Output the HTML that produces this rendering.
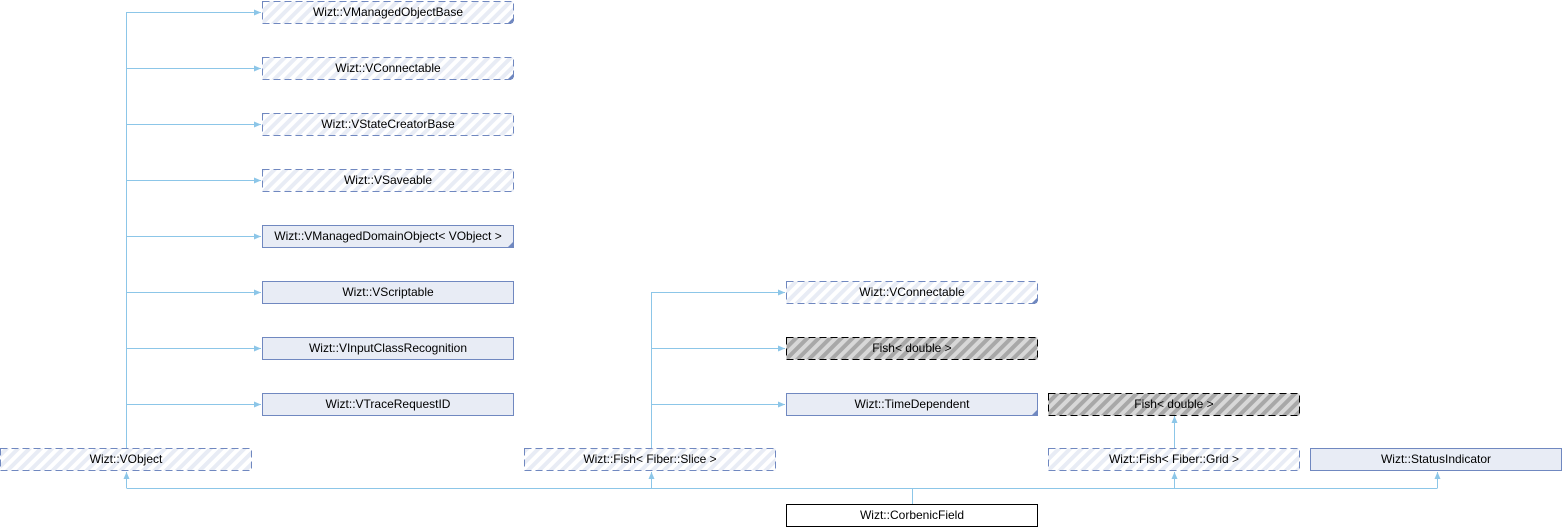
<!DOCTYPE html>
<html><head><meta charset="utf-8"><style>html,body{margin:0;padding:0;background:#fff;}svg{display:block}</style></head>
<body>
<svg width="1562" height="528" xmlns="http://www.w3.org/2000/svg" font-family="Liberation Sans, sans-serif" font-size="12">
<defs>
<pattern id="hb" width="8" height="8" patternUnits="userSpaceOnUse" patternTransform="rotate(45)">
<rect width="8" height="8" fill="#fff"/><rect width="4" height="8" fill="#e8ecf5"/></pattern>
<pattern id="hg" width="8" height="8" patternUnits="userSpaceOnUse" patternTransform="rotate(45)">
<rect width="8" height="8" fill="#d8d8d8"/><rect width="4" height="8" fill="#a8a8a8"/></pattern>
<marker id="a" markerWidth="8" markerHeight="8" refX="7" refY="4" orient="auto" markerUnits="userSpaceOnUse"><path d="M0,1 L7,4 L0,7z" fill="#8cc6e8"/></marker>
</defs>
<g stroke="#8cc6e8" stroke-width="1" fill="none">
<path d="M126.5,12 V448"/>
<path d="M126.5,12.5 H261" marker-end="url(#a)"/>
<path d="M126.5,68.5 H261" marker-end="url(#a)"/>
<path d="M126.5,124.5 H261" marker-end="url(#a)"/>
<path d="M126.5,180.5 H261" marker-end="url(#a)"/>
<path d="M126.5,236.5 H261" marker-end="url(#a)"/>
<path d="M126.5,292.5 H261" marker-end="url(#a)"/>
<path d="M126.5,348.5 H261" marker-end="url(#a)"/>
<path d="M126.5,404.5 H261" marker-end="url(#a)"/>
<path d="M651.5,292 V448"/>
<path d="M651.5,292.5 H785" marker-end="url(#a)"/>
<path d="M651.5,348.5 H785" marker-end="url(#a)"/>
<path d="M651.5,404.5 H785" marker-end="url(#a)"/>
<path d="M1174.5,448 V416" marker-end="url(#a)"/>
<path d="M126.5,488.5 H1437.5"/>
<path d="M912.5,488 V504"/>
<path d="M126.5,488 V472" marker-end="url(#a)"/>
<path d="M651.5,488 V472" marker-end="url(#a)"/>
<path d="M1174.5,488 V472" marker-end="url(#a)"/>
<path d="M1437.5,488 V472" marker-end="url(#a)"/>
</g>
<g stroke="#7088c0" stroke-dasharray="7,4" fill="url(#hb)">
<rect x="262.5" y="1.5" width="251" height="22"/>
<rect x="262.5" y="57.5" width="251" height="22"/>
<rect x="262.5" y="113.5" width="251" height="22"/>
<rect x="262.5" y="169.5" width="251" height="22"/>
<rect x="0.5" y="448.5" width="251" height="22"/>
<rect x="524.5" y="448.5" width="251" height="22"/>
<rect x="786.5" y="281.5" width="251" height="22"/>
<rect x="1048.5" y="448.5" width="251" height="22"/>
</g>
<g stroke="#000" stroke-dasharray="7,4" fill="url(#hg)">
<rect x="786.5" y="337.5" width="251" height="22"/>
<rect x="1048.5" y="393.5" width="251" height="22"/>
</g>
<g stroke="#7088c0" fill="#e8ecf5">
<rect x="262.5" y="225.5" width="251" height="22"/>
<rect x="262.5" y="281.5" width="251" height="22"/>
<rect x="262.5" y="337.5" width="251" height="22"/>
<rect x="262.5" y="393.5" width="251" height="22"/>
<rect x="786.5" y="393.5" width="251" height="22"/>
<rect x="1310.5" y="448.5" width="251" height="22"/>
</g>
<rect x="786.5" y="504.5" width="251" height="22" fill="#fff" stroke="#000"/>
<g fill="#7088c0">
<path d="M513,18 L513,23 L508,23z"/><path d="M513,74 L513,79 L508,79z"/>
<path d="M513,242 L513,247 L508,247z"/><path d="M1037,298 L1037,303 L1032,303z"/>
<path d="M1037,410 L1037,415 L1032,415z"/>
</g>
<g text-anchor="middle" fill="#000">
<text x="388" y="16">Wizt::VManagedObjectBase</text>
<text x="388" y="72">Wizt::VConnectable</text>
<text x="388" y="128">Wizt::VStateCreatorBase</text>
<text x="388" y="184">Wizt::VSaveable</text>
<text x="388" y="240">Wizt::VManagedDomainObject&lt; VObject &gt;</text>
<text x="388" y="296">Wizt::VScriptable</text>
<text x="388" y="352">Wizt::VInputClassRecognition</text>
<text x="388" y="408">Wizt::VTraceRequestID</text>
<text x="126" y="463">Wizt::VObject</text>
<text x="650" y="463">Wizt::Fish&lt; Fiber::Slice &gt;</text>
<text x="912" y="296">Wizt::VConnectable</text>
<text x="912" y="352">Fish&lt; double &gt;</text>
<text x="912" y="408">Wizt::TimeDependent</text>
<text x="1174" y="408">Fish&lt; double &gt;</text>
<text x="1174" y="463">Wizt::Fish&lt; Fiber::Grid &gt;</text>
<text x="1436" y="463">Wizt::StatusIndicator</text>
<text x="912" y="519">Wizt::CorbenicField</text>
</g>
</svg>
</body></html>
